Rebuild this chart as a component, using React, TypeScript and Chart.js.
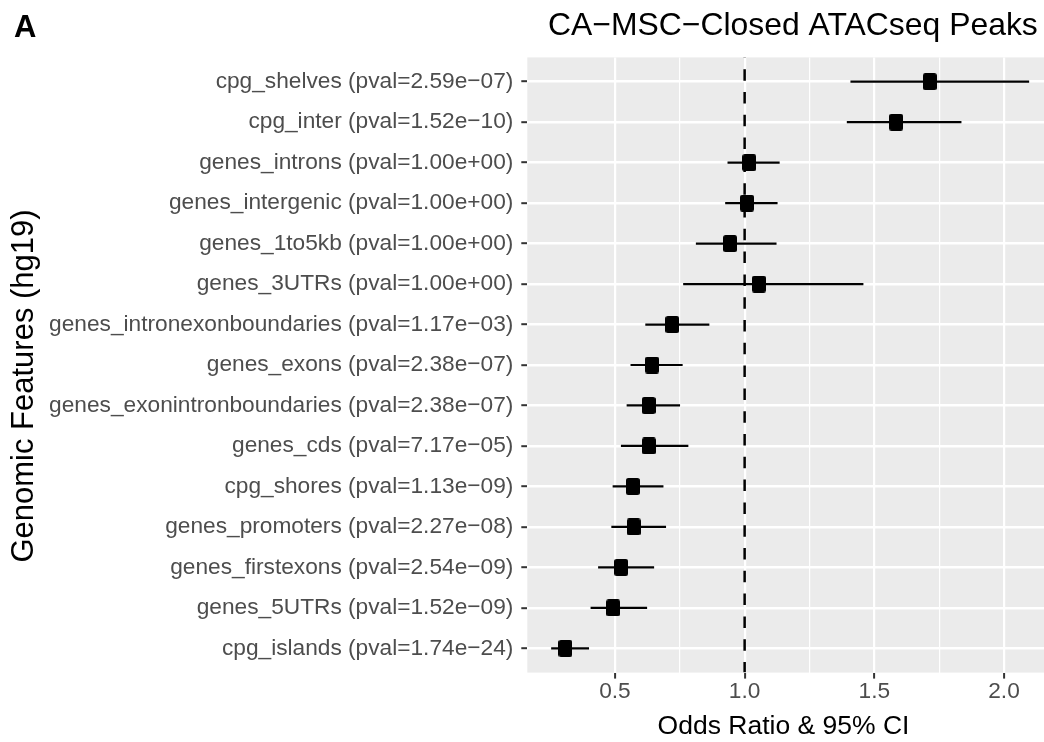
import React, { useEffect, useRef } from 'react';
import { Chart, registerables } from 'chart.js';

Chart.register(...registerables);

// ---------- data ----------
const FEATURES = [
  'cpg_shelves',
  'cpg_inter',
  'genes_introns',
  'genes_intergenic',
  'genes_1to5kb',
  'genes_3UTRs',
  'genes_intronexonboundaries',
  'genes_exons',
  'genes_exonintronboundaries',
  'genes_cds',
  'cpg_shores',
  'genes_promoters',
  'genes_firstexons',
  'genes_5UTRs',
  'cpg_islands',
];
const PVALS = [
  '2.59e−07', '1.52e−10', '1.00e+00', '1.00e+00', '1.00e+00', '1.00e+00', '1.17e−03',
  '2.38e−07', '2.38e−07', '7.17e−05', '1.13e−09', '2.27e−08', '2.54e−09', '1.52e−09', '1.74e−24',
];
const ODDS = [1.714, 1.584, 1.018, 1.009, 0.944, 1.055, 0.721, 0.643, 0.63, 0.631, 0.569, 0.572, 0.524, 0.493, 0.309];
const CI_LOW = [1.408, 1.394, 0.934, 0.925, 0.812, 0.763, 0.617, 0.56, 0.545, 0.523, 0.491, 0.486, 0.435, 0.406, 0.254];
const CI_HIGH = [2.097, 1.836, 1.135, 1.127, 1.123, 1.458, 0.864, 0.761, 0.751, 0.783, 0.687, 0.697, 0.651, 0.624, 0.4];

const X_MAJOR = [0.5, 1.0, 1.5, 2.0];
const X_MINOR = [0.75, 1.25, 1.75];
const X_MIN = 0.162;
const X_MAX = 2.189;
const REF_LINE = 1.0;

const TITLE = 'CA−MSC−Closed ATACseq Peaks';
const PANEL_LABEL = 'A';
const X_TITLE = 'Odds Ratio & 95% CI';
const Y_TITLE = 'Genomic Features (hg19)';

const LABELS = FEATURES.map((f, i) => `${f} (pval=${PVALS[i]})`);

const FONT = '"Liberation Sans", Arial, Helvetica, sans-serif';
const CANVAS_W = 1062;
const CANVAS_H = 742;

function makeMarker(): HTMLCanvasElement {
  const c = document.createElement('canvas');
  c.width = 14;
  c.height = 17;
  const g = c.getContext('2d')!;
  g.fillStyle = '#000';
  g.beginPath();
  if ((g as any).roundRect) {
    (g as any).roundRect(0, 0, 14, 17, 2.5);
  } else {
    g.rect(0, 0, 14, 17);
  }
  g.fill();
  return c;
}

const decorPlugin = {
  id: 'decor',
  beforeDraw(chart: any) {
    const { ctx, chartArea: a } = chart;
    ctx.save();
    ctx.fillStyle = '#ffffff';
    ctx.fillRect(0, 0, chart.width, chart.height);
    ctx.fillStyle = '#EBEBEB';
    ctx.fillRect(a.left, a.top, a.right - a.left, a.bottom - a.top);
    ctx.restore();
  },
  afterDraw(chart: any) {
    const { ctx } = chart;
    ctx.save();
    ctx.fillStyle = '#000';
    ctx.textBaseline = 'alphabetic';
    // panel letter
    ctx.font = `bold 31px ${FONT}`;
    ctx.textAlign = 'left';
    ctx.fillText(PANEL_LABEL, 14, 37);
    // title
    ctx.font = `31.9px ${FONT}`;
    ctx.textAlign = 'left';
    ctx.fillText(TITLE, 548, 35);
    // x title
    ctx.font = `26.5px ${FONT}`;
    ctx.textAlign = 'center';
    ctx.fillText(X_TITLE, 783.5, 734);
    // y title
    ctx.font = `31px ${FONT}`;
    ctx.translate(33, 386);
    ctx.rotate(-Math.PI / 2);
    ctx.textAlign = 'center';
    ctx.fillText(Y_TITLE, 0, 0);
    ctx.restore();
  },
};

export default function App() {
  const ref = useRef<HTMLCanvasElement | null>(null);

  useEffect(() => {
    if (!ref.current) return;
    const marker = makeMarker();
    const n = FEATURES.length;

    const datasets: any[] = [
      {
        type: 'scatter',
        label: 'Odds ratio',
        data: ODDS.map((v, i) => ({ x: v, y: i + 1 })),
        pointStyle: marker,
        pointRadius: 9,
        pointHoverRadius: 9,
        backgroundColor: '#000',
        borderWidth: 0,
        order: 0,
      },
      ...FEATURES.map((f, i) => ({
        type: 'line',
        label: f,
        data: [
          { x: CI_LOW[i], y: i + 1 },
          { x: CI_HIGH[i], y: i + 1 },
        ],
        borderColor: '#000',
        borderWidth: 2.2,
        pointRadius: 0,
        fill: false,
        order: 1,
      })),
      {
        type: 'line',
        label: 'ref',
        data: [
          { x: REF_LINE, y: 0.4 },
          { x: REF_LINE, y: n + 0.6 },
        ],
        borderColor: '#000',
        borderWidth: 2.5,
        borderDash: [11.5, 11.3],
        borderDashOffset: 11,
        pointRadius: 0,
        fill: false,
        order: 2,
      },
    ];

    const chart = new Chart(ref.current, {
      type: 'scatter',
      data: { datasets },
      plugins: [decorPlugin],
      options: {
        animation: false,
        responsive: false,
        maintainAspectRatio: false,
        devicePixelRatio: 1,
        events: [],
        layout: { padding: { top: 57.4, right: 1.2, left: 0, bottom: 0 } },
        plugins: {
          legend: { display: false },
          tooltip: { enabled: false },
          title: { display: false },
        },
        scales: {
          x: {
            type: 'linear',
            position: 'bottom',
            min: X_MIN,
            max: X_MAX,
            afterBuildTicks: (s: any) => {
              s.ticks = [...X_MAJOR, ...X_MINOR].sort((a, b) => a - b).map((v) => ({ value: v }));
            },
            afterFit: (s: any) => {
              s.height = CANVAS_H - 672.6;
            },
            ticks: {
              callback: (v: any) => (X_MAJOR.includes(Number(v)) ? Number(v).toFixed(1) : ''),
              font: { family: FONT, size: 22.7 },
              color: '#4D4D4D',
              padding: 0,
              maxRotation: 0,
              autoSkip: false,
            },
            grid: {
              color: '#ffffff',
              lineWidth: (c: any) => (c.tick && X_MAJOR.includes(c.tick.value) ? 2.2 : 1.2),
              tickColor: (c: any) => (c.tick && X_MAJOR.includes(c.tick.value) ? '#333333' : 'rgba(0,0,0,0)'),
              tickWidth: 2,
              tickLength: 6,
              drawTicks: true,
            },
            border: { display: false },
          },
          y: {
            type: 'linear',
            min: 0.4,
            max: n + 0.6,
            reverse: true,
            afterBuildTicks: (s: any) => {
              s.ticks = FEATURES.map((_, i) => ({ value: i + 1 }));
            },
            afterFit: (s: any) => {
              s.width = 527.3;
            },
            ticks: {
              callback: (v: any) => LABELS[Number(v) - 1] ?? '',
              font: { family: FONT, size: 22.7 },
              color: '#4D4D4D',
              padding: 8,
              autoSkip: false,
            },
            grid: {
              color: '#ffffff',
              lineWidth: 2.4,
              tickColor: '#333333',
              tickWidth: 2,
              tickLength: 6,
              drawTicks: true,
            },
            border: { display: false },
          },
        },
      },
    } as any);

    return () => chart.destroy();
  }, []);

  return (
    <div
      style={{
        position: 'fixed',
        left: 0,
        top: 0,
        width: 1044,
        height: 742,
        overflow: 'hidden',
        background: '#fff',
      }}
    >
      <div style={{ position: 'absolute', left: 0, top: 0, width: CANVAS_W, height: CANVAS_H }}>
        <canvas
          ref={ref}
          width={CANVAS_W}
          height={CANVAS_H}
          style={{ display: 'block', width: CANVAS_W, height: CANVAS_H }}
        />
      </div>
    </div>
  );
}
